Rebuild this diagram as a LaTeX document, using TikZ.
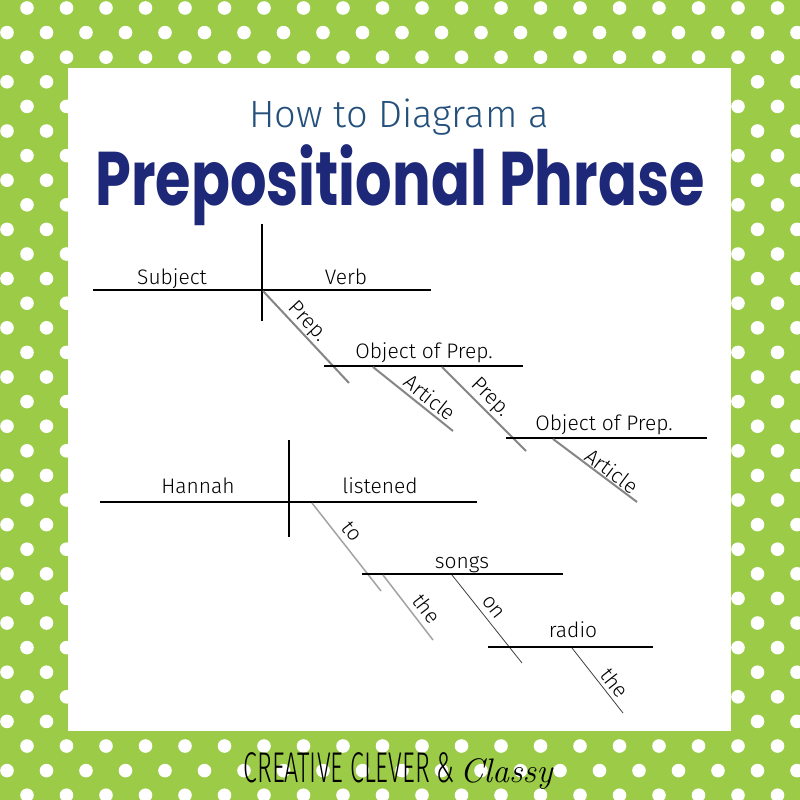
\documentclass[tikz,border=0pt]{standalone}
\usepackage{fontspec}
\usepackage{graphicx}
\newfontfamily\labfont{Fira Sans Light}
\newfontfamily\titlefont{Poppins}
\newfontfamily\condfont{Fira Sans Light}
\definecolor{bggreen}{HTML}{9BCB47}
\definecolor{titleblue}{HTML}{24507C}
\definecolor{navy}{HTML}{1E2878}
\definecolor{diaggray}{HTML}{858585}
\definecolor{lightgray2}{HTML}{A3A3A3}
\definecolor{thingray}{HTML}{404040}
\tikzset{
  lab/.style={font=\labfont\fontsize{21}{23}\selectfont, inner sep=0pt, text=black},
  baseline line/.style={line width=2pt, black},
  divider/.style={line width=1.4pt, black},
  diagA/.style={line width=2pt, diaggray},
  diagB/.style={line width=1.5pt, lightgray2},
  diagC/.style={line width=0.8pt, thingray},
}
\begin{document}
\begin{tikzpicture}[x=1pt,y=-1pt]
\useasboundingbox (0,0) rectangle (800,800);
\fill[bggreen] (0,0) rectangle (800,800);
\foreach \k in {0,...,32}{
  \pgfmathsetmacro\yy{8+24.6*\k}
  \pgfmathsetmacro\xo{mod(\k,2)==0 ? 27 : 7}
  \foreach \m in {-1,...,20}{
    \fill[white] ({\xo+39.5*\m},\yy) circle[radius=6.8];
  }
}
\fill[white] (68,68) rectangle (731,731);

% titles
\node[font=\labfont\fontsize{38}{40}\selectfont, text=titleblue, anchor=base, inner sep=0pt] (t1) at (399,127) {How to Diagram a};
\node[text=navy, anchor=base, inner sep=0pt] (t2) at (400,205)
  {\resizebox{609pt}{\height}{\titlefont\bfseries\fontsize{76}{80}\selectfont Prepositional Phrase}};

% ---------- diagram 1 ----------
\coordinate (h1a) at (93,290);   \coordinate (h1b) at (431,290);
\coordinate (v1a) at (262,224);  \coordinate (v1b) at (262,321);
\coordinate (p1a) at (263,291);  \coordinate (p1b) at (349,383);
\coordinate (o1a) at (324,366);  \coordinate (o1b) at (523,366);
\coordinate (a1a) at (373,367);  \coordinate (a1b) at (453,431);
\coordinate (p2a) at (442,367);  \coordinate (p2b) at (526,451);
\coordinate (o2a) at (506,438);  \coordinate (o2b) at (707,438);
\coordinate (a2a) at (553,439);  \coordinate (a2b) at (637,502);

\draw[baseline line] (h1a) -- (h1b);
\draw[divider] (v1a) -- (v1b);
\draw[diagA] (p1a) -- (p1b) node[lab, pos=0.42, sloped, anchor=center, yshift=11pt] (lp1) {Prep.};
\draw[baseline line] (o1a) -- (o1b);
\draw[diagA] (a1a) -- (a1b) node[lab, pos=0.62, sloped, anchor=center, yshift=12pt] (la1) {Article};
\draw[diagA] (p2a) -- (p2b) node[lab, pos=0.47, sloped, anchor=center, yshift=12pt] (lp2) {Prep.};
\draw[baseline line] (o2a) -- (o2b);
\draw[diagA] (a2a) -- (a2b) node[lab, pos=0.63, sloped, anchor=center, yshift=10pt] (la2) {Article};

\node[lab, anchor=base] (subj) at (172,284) {Subject};
\node[lab, anchor=base] (verb) at (346,284) {Verb};
\node[lab, anchor=base] (obj1) at (424,358) {Object of Prep.};
\node[lab, anchor=base] (obj2) at (604,430) {Object of Prep.};

% ---------- diagram 2 ----------
\coordinate (h2a) at (100,502);  \coordinate (h2b) at (477,502);
\coordinate (v2a) at (289,440);  \coordinate (v2b) at (289,537);
\coordinate (toa) at (312,503);  \coordinate (tob) at (381,591);
\coordinate (sga) at (362,574);  \coordinate (sgb) at (563,574);
\coordinate (th1a) at (383,575); \coordinate (th1b) at (433,640);
\coordinate (ona) at (452,575);  \coordinate (onb) at (522,663);
\coordinate (rda) at (488,647);  \coordinate (rdb) at (653,647);
\coordinate (th2a) at (572,648); \coordinate (th2b) at (623,713);

\draw[baseline line] (h2a) -- (h2b);
\draw[divider] (v2a) -- (v2b);
\draw[diagB] (toa) -- (tob) node[lab, pos=0.42, sloped, anchor=center, yshift=14pt] (lto) {to};
\draw[baseline line] (sga) -- (sgb);
\draw[diagB] (th1a) -- (th1b) node[lab, pos=0.65, sloped, anchor=center, yshift=14pt] (lth1) {the};
\draw[diagC] (ona) -- (onb) node[lab, pos=0.45, sloped, anchor=center, yshift=12pt] (lon) {on};
\draw[baseline line] (rda) -- (rdb);
\draw[diagC] (th2a) -- (th2b) node[lab, pos=0.65, sloped, anchor=center, yshift=12pt] (lth2) {the};

\node[lab, anchor=base] (hannah) at (198,493) {Hannah};
\node[lab, anchor=base] (listened) at (380,493) {listened};
\node[lab, anchor=base] (songs) at (462,568) {songs};
\node[lab, anchor=base] (radio) at (573,637) {radio};

% footer
\node[anchor=base, inner sep=0pt, text=black] (foot) at (398,782)
  {\scalebox{0.58}[1]{\condfont\fontsize{43}{45}\selectfont CREATIVE CLEVER \&}\hspace{5pt}{\itshape\fontsize{34}{36}\selectfont Classy}};
\end{tikzpicture}
\end{document}
